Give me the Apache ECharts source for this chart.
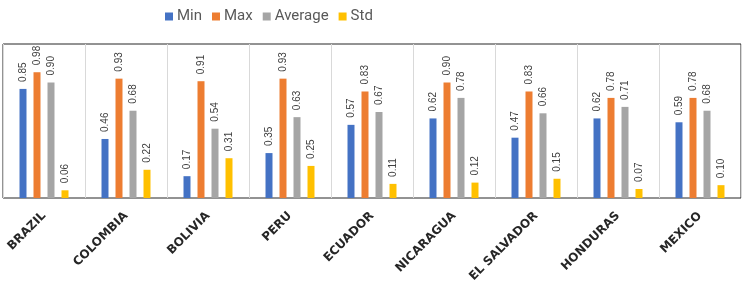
<!DOCTYPE html>
<html>
<head>
<meta charset="utf-8">
<script src="https://cdn.jsdelivr.net/npm/echarts@6/dist/echarts.min.js"></script>
<style>
  html, body { margin: 0; padding: 0; background: #fff; }
  #chart { width: 744px; height: 295px; }
</style>
</head>
<body>
<div id="chart"></div>
<script>
const countries = ['BRAZIL', 'COLOMBIA', 'BOLIVIA', 'PERU', 'ECUADOR', 'NICARAGUA', 'EL SALVADOR', 'HONDURAS', 'MEXICO'];
const minVals = [0.85, 0.46, 0.17, 0.35, 0.57, 0.62, 0.47, 0.62, 0.59];
const maxVals = [0.98, 0.93, 0.91, 0.93, 0.83, 0.90, 0.83, 0.78, 0.78];
const avgVals = [0.90, 0.68, 0.54, 0.63, 0.67, 0.78, 0.66, 0.71, 0.68];
const stdVals = [0.06, 0.22, 0.31, 0.25, 0.11, 0.12, 0.15, 0.07, 0.10];

const chart = echarts.init(document.getElementById('chart'));

const barLabel = {
  show: true,
  position: 'top',
  rotate: 90,
  align: 'left',
  verticalAlign: 'middle',
  distance: 7,
  fontSize: 10,
  fontFamily: 'Liberation Sans, Arial, sans-serif',
  color: '#404040',
  formatter: p => p.value.toFixed(2)
};

const makeSeries = (name, data, color) => ({
  name: name,
  type: 'bar',
  data: data,
  barWidth: 7,
  barGap: '100%',
  itemStyle: { color: color },
  label: barLabel
});

chart.setOption({
  animation: false,
  legend: {
    top: 4,
    left: 160,
    itemWidth: 8,
    itemHeight: 8,
    itemGap: 10,
    icon: 'rect',
    textStyle: {
      fontSize: 15,
      padding: [0, 0, 0, -1],
      fontFamily: 'Roboto, sans-serif',
      color: '#595959'
    }
  },
  grid: {
    left: 3,
    right: 3,
    top: 44,
    bottom: 97,
    show: true,
    borderColor: '#262626',
    borderWidth: 1
  },
  xAxis: {
    type: 'category',
    data: countries,
    axisLine: { show: false },
    axisTick: { show: false },
    splitLine: { show: true, lineStyle: { color: '#d9d9d9', width: 1 } },
    axisLabel: {
      rotate: 45,
      margin: 16,
      fontSize: 12,
      fontWeight: 'bold',
      fontFamily: 'DejaVu Sans, sans-serif',
      color: '#262626',
      interval: 0
    }
  },
  yAxis: {
    type: 'value',
    min: 0,
    max: 1.2,
    show: false,
    splitLine: { show: false }
  },
  series: [
    makeSeries('Min', minVals, '#4472C4'),
    makeSeries('Max', maxVals, '#ED7D31'),
    makeSeries('Average', avgVals, '#A5A5A5'),
    makeSeries('Std', stdVals, '#FFC000')
  ]
});
</script>
</body>
</html>
